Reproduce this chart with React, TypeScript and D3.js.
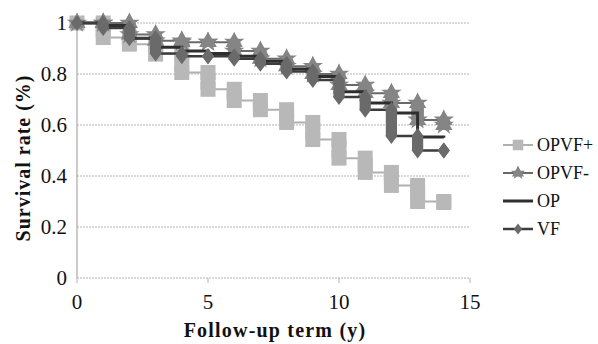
import React from "react";
import * as d3 from "d3";

const years = [0, 1, 2, 3, 4, 5, 6, 7, 8, 9, 10, 11, 12, 13, 14];
const opvfPlus = [1.0, 0.943, 0.917, 0.878, 0.806, 0.74, 0.696, 0.66, 0.61, 0.543, 0.47, 0.414, 0.363, 0.3, 0.296];
const opvfMinus = [1.0, 1.0, 0.955, 0.93, 0.925, 0.925, 0.89, 0.86, 0.83, 0.8, 0.757, 0.725, 0.686, 0.62, 0.6];
const op = [1.0, 0.99, 0.94, 0.905, 0.89, 0.88, 0.87, 0.85, 0.82, 0.79, 0.73, 0.686, 0.647, 0.553, 0.55];
const vf = [1.0, 0.98, 0.94, 0.88, 0.87, 0.87, 0.86, 0.84, 0.81, 0.776, 0.71, 0.66, 0.557, 0.5, 0.5];

const yTicks = [0, 0.2, 0.4, 0.6, 0.8, 1];
const yTickLabels = ["0", "0.2", "0.4", "0.6", "0.8", "1"];
const xTicks = [0, 5, 10, 15];
const seriesNames = ["OPVF+", "OPVF-", "OP", "VF"];

type Shape = "square" | "triangle" | "none" | "diamond";
const styles: { fill: string; line: string; lw: number; shape: Shape; size: number }[] = [
  { fill: "#b8b8b8", line: "#b0b0b0", lw: 2, shape: "square", size: 15 },
  { fill: "#858585", line: "#6a6a6a", lw: 2, shape: "triangle", size: 18 },
  { fill: "#3a3a3a", line: "#2e2e2e", lw: 3, shape: "none", size: 0 },
  { fill: "#6a6a6a", line: "#3c3c3c", lw: 2.5, shape: "diamond", size: 16 },
];

const W = 598;
const H = 344;
const x = d3.scaleLinear().domain([0, 15]).range([77, 470]);
const y = d3.scaleLinear().domain([0, 1]).range([278, 23]);
const FONT = "Liberation Serif";

function marker(shape: Shape, cx: number, cy: number, s: number, fill: string, key: string) {
  const h = s / 2;
  if (shape === "square") return <rect key={key} x={cx - h} y={cy - h} width={s} height={s} fill={fill} />;
  if (shape === "triangle") {
    const sym = d3.symbol(d3.symbolTriangle, s * s * 0.4)();
    const sym2 = d3.symbol(d3.symbolStar, s * s * 0.4)();
    return (
      <g key={key} transform={`translate(${cx},${cy})`}>
        <path d={sym || ""} fill={fill} />
        <path d={sym2 || ""} fill={fill} />
      </g>
    );
  }
  if (shape === "diamond") {
    return <path key={key} d={`M${cx},${cy - h}L${cx + h * 0.75},${cy}L${cx},${cy + h}L${cx - h * 0.75},${cy}Z`} fill={fill} />;
  }
  return null;
}

export default function App() {
  const all = [opvfPlus, opvfMinus, op, vf];
  const lineGen = d3.line<[number, number]>().x((d) => x(d[0])).y((d) => y(d[1]));

  return (
    <svg
      width={W}
      height={H}
      fontFamily={FONT}
      style={{ position: "absolute", left: 0, top: 0, background: "#fff", fontFamily: FONT }}
    >
      {yTicks.map((t) => (
        <line key={"g" + t} x1={x(0)} x2={x(15)} y1={y(t)} y2={y(t)} stroke="#b4b4b4" strokeWidth={1} strokeDasharray="2,1" />
      ))}
      <line x1={x(0)} x2={x(0)} y1={y(0)} y2={y(1)} stroke="#a8a8a8" strokeWidth={1.2} />
      {xTicks.map((t) => (
        <line key={"xt" + t} x1={x(t)} x2={x(t)} y1={y(0)} y2={y(0) + 5} stroke="#b0b0b0" strokeWidth={1} />
      ))}
      {yTicks.map((t, i) => (
        <text key={"yl" + t} x={67} y={y(t) + 7} textAnchor="end" fontFamily={FONT} fontSize={21} fill="#111">
          {yTickLabels[i]}
        </text>
      ))}
      {xTicks.map((t) => (
        <text key={"xl" + t} x={x(t)} y={309} textAnchor="middle" fontFamily={FONT} fontSize={21} fill="#111">
          {String(t)}
        </text>
      ))}
      <text x={275} y={337} textAnchor="middle" fontFamily={FONT} fontSize={20} fontWeight="bold" letterSpacing={1.2} fill="#111">
        Follow-up term (y)
      </text>
      <text
        transform={`translate(30,158) rotate(-90)`}
        textAnchor="middle"
        fontFamily={FONT}
        fontSize={20}
        fontWeight="bold"
        letterSpacing={1}
        fill="#111"
      >
        Survival rate (%)
      </text>
      {all.map((vals, si) => {
        const st = styles[si];
        const pts: [number, number][] = [];
        years.forEach((yr, i) => {
          if (i === 0) pts.push([yr, vals[0]]);
          else {
            pts.push([yr, vals[i - 1]]);
            pts.push([yr, vals[i]]);
          }
        });
        return (
          <g key={"s" + si}>
            <path d={lineGen(pts) || ""} fill="none" stroke={st.line} strokeWidth={st.lw} />
            {st.shape !== "none" &&
              years.map((yr, i) =>
                i > 0 ? (
                  <line
                    key={"c" + i}
                    x1={x(yr)}
                    x2={x(yr)}
                    y1={y(vals[i - 1])}
                    y2={y(vals[i])}
                    stroke={st.fill}
                    strokeWidth={st.shape === "square" ? st.size : st.size * 0.7}
                  />
                ) : null
              )}
            {st.shape !== "none" && pts.map((p, pi) => marker(st.shape, x(p[0]), y(p[1]), st.size, st.fill, "m" + pi))}
          </g>
        );
      })}
      {seriesNames.map((nm, i) => {
        const st = styles[i];
        const cy = 145 + i * 28;
        return (
          <g key={"lg" + i}>
            <line x1={503} x2={533} y1={cy} y2={cy} stroke={st.line} strokeWidth={st.lw} />
            {st.shape !== "none" && marker(st.shape, 518, cy, st.size * 0.7, st.fill, "lm" + i)}
            <text x={537} y={cy + 6} fontFamily={FONT} fontSize={18} fill="#111">
              {nm}
            </text>
          </g>
        );
      })}
    </svg>
  );
}
